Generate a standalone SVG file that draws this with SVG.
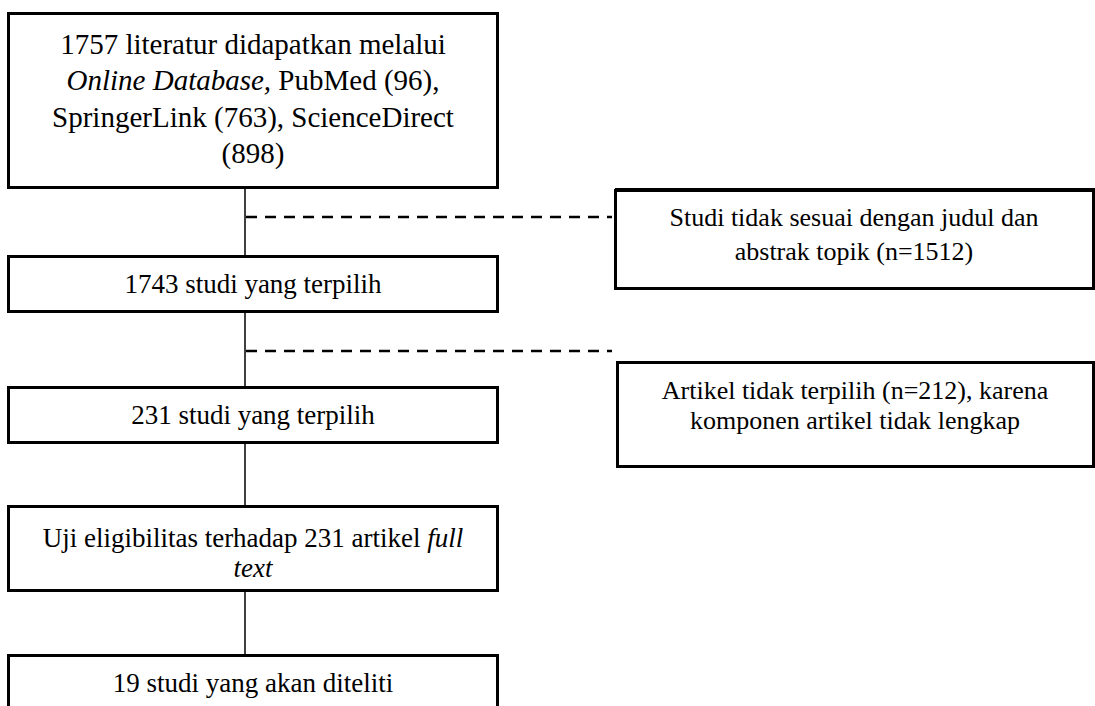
<svg xmlns="http://www.w3.org/2000/svg" width="1095" height="706" viewBox="0 0 1095 706">
<defs>
<rect id="boxL" width="489" height="55"/>
</defs>
<rect width="1095" height="706" fill="#fff"/>
<g id="connectors" stroke="#000" fill="none">
<line stroke-width="1.5" x1="245" y1="181" x2="245" y2="256"/>
<line stroke-width="1.5" x1="245" y1="311" x2="245" y2="387"/>
<line stroke-width="1.5" x1="245" y1="442" x2="245" y2="506"/>
<line stroke-width="1.5" x1="245" y1="591" x2="245" y2="655"/>
<line stroke-width="2.5" stroke-dasharray="11 8" x1="246" y1="217" x2="612" y2="217"/>
<line stroke-width="2.5" stroke-dasharray="11 8" x1="246" y1="351" x2="612" y2="351"/>
</g>
<g id="node1">
<rect fill="#fff" stroke="#000" stroke-width="3" x="8.5" y="13.5" width="489" height="174"/>
<text font-family="Liberation Serif" font-size="29" text-anchor="middle" x="253" y="54">1757 literatur didapatkan melalui</text>
<text font-family="Liberation Serif" font-size="29" text-anchor="middle" x="253" y="90"><tspan font-style="italic">Online Database,</tspan> PubMed (96),</text>
<text font-family="Liberation Serif" font-size="29" text-anchor="middle" x="253" y="127">SpringerLink (763), ScienceDirect</text>
<text font-family="Liberation Serif" font-size="29" text-anchor="middle" x="253" y="163">(898)</text>
</g>
<g id="node2">
<use href="#boxL" x="8.5" y="256.5" fill="#fff" stroke="#000" stroke-width="3"/>
<text font-family="Liberation Serif" font-size="27" text-anchor="middle" x="253" y="293">1743 studi yang terpilih</text>
</g>
<g id="node3">
<use href="#boxL" x="8.5" y="387.5" fill="#fff" stroke="#000" stroke-width="3"/>
<text font-family="Liberation Serif" font-size="27" text-anchor="middle" x="253" y="424">231 studi yang terpilih</text>
</g>
<g id="node4">
<rect fill="#fff" stroke="#000" stroke-width="3" x="8.5" y="506.5" width="489" height="84"/>
<text font-family="Liberation Serif" font-size="27" text-anchor="middle" x="253" y="547">Uji eligibilitas terhadap 231 artikel <tspan font-style="italic">full</tspan></text>
<text font-family="Liberation Serif" font-size="27" text-anchor="middle" x="253" y="577" font-style="italic">text</text>
</g>
<g id="node5">
<rect fill="#fff" stroke="#000" stroke-width="3" x="8.5" y="655.5" width="489" height="70"/>
<text font-family="Liberation Serif" font-size="27" text-anchor="middle" x="253" y="692">19 studi yang akan diteliti</text>
</g>
<g id="node6">
<rect fill="#fff" stroke="#000" stroke-width="3" x="615.5" y="190.5" width="478" height="98"/>
<line x1="615" y1="189.5" x2="1095" y2="189.5" stroke="#000" stroke-width="3"/>
<text font-family="Liberation Serif" font-size="26" text-anchor="middle" x="854" y="226">Studi tidak sesuai dengan judul dan</text>
<text font-family="Liberation Serif" font-size="26" text-anchor="middle" x="854" y="260">abstrak topik (n=1512)</text>
</g>
<g id="node7">
<rect fill="#fff" stroke="#000" stroke-width="3" x="617.5" y="362.5" width="476" height="104"/>
<text font-family="Liberation Serif" font-size="26" text-anchor="middle" x="855" y="399">Artikel tidak terpilih (n=212), karena</text>
<text font-family="Liberation Serif" font-size="26" text-anchor="middle" x="855" y="429">komponen artikel tidak lengkap</text>
</g>
</svg>
